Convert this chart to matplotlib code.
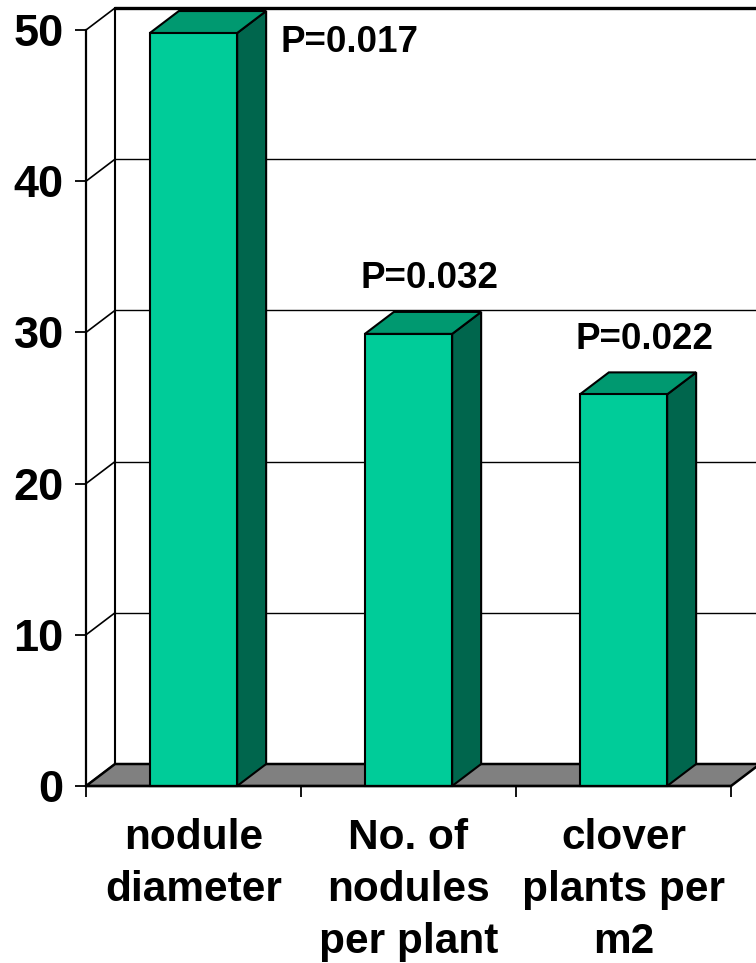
import matplotlib
matplotlib.use("Agg")
import matplotlib.pyplot as plt
from matplotlib.patches import Polygon, Rectangle

# Data
categories = ["nodule\ndiameter", "No. of\nnodules\nper plant", "clover\nplants per\nm2"]
values = [49.8, 29.9, 25.9]
p_labels = ["P=0.017", "P=0.032", "P=0.022"]
y_ticks = [0, 10, 20, 30, 40, 50]

FRONT = "#00CC99"
TOP = "#009970"
SIDE = "#00664D"
FLOOR = "#808080"

W, H, DPI = 756, 963, 100
fig = plt.figure(figsize=(W / DPI, H / DPI), dpi=DPI)
fig.patch.set_facecolor("white")

# front plane of the plot: x 0..3 (categories), y 0..50
left_px, right_px, bottom_px, top_px = 86, 731, 786, 30
ax = fig.add_axes([left_px / W, 1 - bottom_px / H,
                   (right_px - left_px) / W, (bottom_px - top_px) / H])
ax.set_xlim(0, len(categories))
ax.set_ylim(0, 50)
ax.patch.set_alpha(0)

# depth offset of the 3-D box, in data units
px_per_x = (right_px - left_px) / len(categories)
px_per_y = (bottom_px - top_px) / 50
DX = 29 / px_per_x
DY = 22 / px_per_y
n = len(categories)

# back wall gridlines and left wall diagonals
for y in y_ticks:
    lw = 2.4 if y == y_ticks[-1] else 1.0
    if y > 0:
        ax.plot([DX, n + DX], [y + DY, y + DY], color="black", lw=lw,
                clip_on=False, zorder=1, solid_capstyle="butt")
    ax.plot([0, DX], [y, y + DY], color="black", lw=1.2, clip_on=False, zorder=1)
ax.plot([DX, DX], [DY, y_ticks[-1] + DY], color="black", lw=1.5, clip_on=False, zorder=1)
ax.plot([n + DX, n + DX], [DY, y_ticks[-1] + DY], color="black", lw=1.5, clip_on=False, zorder=1)

# floor
ax.add_patch(Polygon([(0, 0), (n, 0), (n + DX, DY), (DX, DY)], closed=True,
                     facecolor=FLOOR, edgecolor="black", lw=1.8, clip_on=False, zorder=2))

# 3-D columns
half = 0.4 / 2 + 0.003
for i, v in enumerate(values):
    c = i + 0.5
    x0, x1 = c - half, c + half
    ax.add_patch(Polygon([(x1, 0), (x1 + DX, DY), (x1 + DX, v + DY), (x1, v)], closed=True,
                         facecolor=SIDE, edgecolor="black", lw=1.5, clip_on=False, zorder=3))
    ax.add_patch(Polygon([(x0, v), (x1, v), (x1 + DX, v + DY), (x0 + DX, v + DY)], closed=True,
                         facecolor=TOP, edgecolor="black", lw=1.5, clip_on=False, zorder=3))
    ax.add_patch(Rectangle((x0, 0), x1 - x0, v, facecolor=FRONT, edgecolor="black",
                           lw=1.5, clip_on=False, zorder=4))

# significance labels
label_font = dict(fontsize=26.5, fontweight="bold", family="Liberation Sans", color="black")
for i, (v, txt) in enumerate(zip(values, p_labels)):
    c = i + 0.5
    if v + DY + 3 > 50 + DY:
        # no room above the tallest column: put the label beside its top
        ax.text(c + half + DX + 0.065, v - 0.6, txt, ha="left", va="center",
                clip_on=False, zorder=5, **label_font)
    else:
        ax.text(c + DX / 2 + 0.03, v + DY + 2.2, txt, ha="center", va="center",
                clip_on=False, zorder=5, **label_font)

# axes, ticks and tick labels
for s in ["top", "right"]:
    ax.spines[s].set_visible(False)
for s in ["left", "bottom"]:
    ax.spines[s].set_linewidth(1.6)
    ax.spines[s].set_zorder(6)

ax.set_yticks(y_ticks)
ax.set_yticklabels([str(t) for t in y_ticks])
ax.tick_params(axis="y", direction="out", length=8, width=1.3, pad=8,
               labelsize=32.5)
for lab in ax.get_yticklabels():
    lab.set_fontweight("bold")
    lab.set_family("Liberation Sans")

ax.set_xticks(range(n + 1))
ax.set_xticklabels([])
ax.set_xticks([i + 0.5 for i in range(n)], minor=True)
ax.set_xticklabels(categories, minor=True, linespacing=1.38)
ax.tick_params(axis="x", which="major", direction="out", length=8, width=1.3)
ax.tick_params(axis="x", which="minor", length=0, pad=23, labelsize=30.5)
for lab in ax.get_xticklabels(minor=True):
    lab.set_fontweight("bold")
    lab.set_family("Liberation Sans")

fig.savefig("out.png", dpi=DPI, facecolor="white")
